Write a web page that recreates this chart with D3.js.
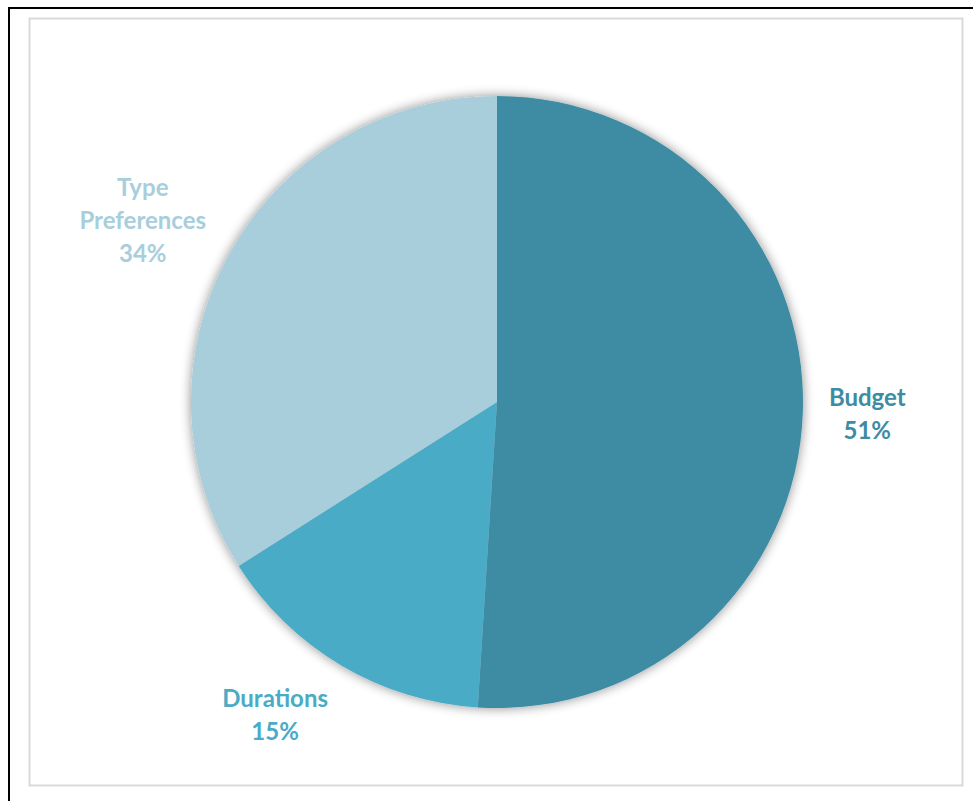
<!DOCTYPE html>
<html>
<head>
<meta charset="utf-8">
<script src="https://cdn.jsdelivr.net/npm/d3@7"></script>
<style>
  body { margin: 0; background: #fff; }
  svg { display: block; }
</style>
</head>
<body>
<div id="chart"></div>
<script>
// Data
const categories = ['Budget', 'Durations', 'Type Preferences']
const shares = [51, 15, 34]
const colors = ['#3d8ca3', '#4aabc6', '#a8cedc']

const dimensions = { width: 973, height: 801 }
const cx = 497, cy = 402, radius = 306

const svg = d3.select('#chart')
  .append('svg')
  .attr('width', dimensions.width)
  .attr('height', dimensions.height)

// frames
svg.append('rect')
  .attr('x', 9).attr('y', 8)
  .attr('width', 980).attr('height', 810)
  .attr('fill', 'none').attr('stroke', '#000').attr('stroke-width', 2)
svg.append('rect')
  .attr('x', 29.5).attr('y', 18.5)
  .attr('width', 933).attr('height', 767)
  .attr('fill', '#fff').attr('stroke', '#d9d9d9').attr('stroke-width', 2)

// shadow
const defs = svg.append('defs')
const f = defs.append('filter').attr('id', 'shadow')
  .attr('x', '-10%').attr('y', '-10%').attr('width', '120%').attr('height', '120%')
f.append('feGaussianBlur').attr('in', 'SourceAlpha').attr('stdDeviation', 6)
f.append('feOffset').attr('dy', 0).attr('result', 'b')
f.append('feComponentTransfer').append('feFuncA').attr('type', 'linear').attr('slope', 0.45)
const m = f.append('feMerge')
m.append('feMergeNode')
m.append('feMergeNode').attr('in', 'SourceGraphic')

const pie = d3.pie().sort(null).value(d => d)
const arcs = pie(shares)
const arc = d3.arc().innerRadius(0).outerRadius(radius)

const g = svg.append('g').attr('transform', `translate(${cx},${cy})`)
g.append('g')
  .attr('filter', 'url(#shadow)')
  .selectAll('path')
  .data(arcs)
  .join('path')
  .attr('d', arc)
  .attr('fill', (d, i) => colors[i])

// labels - nearest box corner sits on the mid-angle ray
const labelDist = 332
const lineH = 33
const clamp = v => Math.max(-1, Math.min(1, v))
arcs.forEach((a, i) => {
  const mid = (a.startAngle + a.endAngle) / 2
  const ux = Math.sin(mid), uy = -Math.cos(mid)
  const words = categories[i] === 'Type Preferences' ? ['Type', 'Preferences'] : [categories[i]]
  const lines = words.concat([shares[i] + '%'])
  const t = g.append('text')
    .attr('font-family', 'Lato, "Open Sans", sans-serif')
    .attr('font-weight', 'bold')
    .attr('font-size', 24)
    .attr('fill', colors[i])
    .attr('text-anchor', 'middle')
  lines.forEach((l, j) => t.append('tspan').attr('x', 0).attr('y', j * lineH).text(l))
  const bb = t.node().getBBox()
  const px = labelDist * ux + clamp(ux * 2) * bb.width / 2
  const py = labelDist * uy + clamp(uy) * bb.height / 2
  t.attr('transform', `translate(${px},${py - (bb.y + bb.height / 2)})`)
})
</script>
</body>
</html>
